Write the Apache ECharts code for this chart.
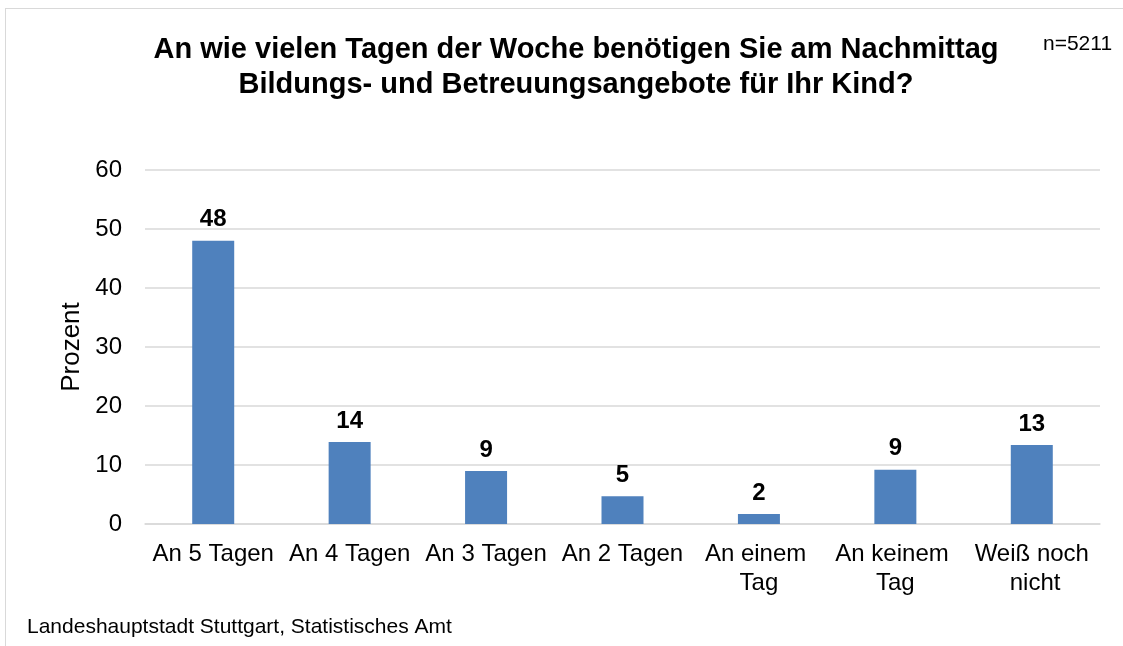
<!DOCTYPE html>
<html>
<head>
<meta charset="utf-8">
<script src="https://cdn.jsdelivr.net/npm/echarts@6/dist/echarts.min.js"></script>
<style>
  html, body { margin: 0; padding: 0; background: #fff; }
  #frame { position: absolute; left: 5px; top: 8px; width: 1130px; height: 650px; border: 1px solid #d9d9d9; box-sizing: border-box; }
  #main { position: absolute; left: 0; top: 0; width: 1123px; height: 646px; }
</style>
</head>
<body>
<div id="frame"></div>
<div id="main"></div>
<script>
// Kategorien und Werte (Prozent)
var categories = ['An 5 Tagen', 'An 4 Tagen', 'An 3 Tagen', 'An 2 Tagen', 'An einem Tag', 'An keinem Tag', 'Weiß noch nicht'];
var values = [48, 13.9, 9.0, 4.7, 1.7, 9.2, 13.4];
var yTicks = [0, 10, 20, 30, 40, 50, 60];

var font = 'Liberation Sans, Arial, sans-serif';
var myChart = echarts.init(document.getElementById('main'));

myChart.setOption({
    animation: false,
    textStyle: { fontFamily: font },
    title: [{
        text: 'An wie vielen Tagen der Woche benötigen Sie am Nachmittag\nBildungs- und Betreuungsangebote für Ihr Kind?',
        left: 571,
        top: 27,
        textAlign: 'center',
        textStyle: { fontFamily: font, fontSize: 29, fontWeight: 'bold', color: '#000', lineHeight: 35 }
    }, {
        text: 'n=5211',
        left: 1038,
        top: 27,
        textStyle: { fontFamily: font, fontSize: 21, fontWeight: 'normal', color: '#000', lineHeight: 24 }
    }, {
        text: 'Landeshauptstadt Stuttgart, Statistisches Amt',
        left: 22,
        top: 610,
        textStyle: { fontFamily: font, fontSize: 21, fontWeight: 'normal', color: '#000', lineHeight: 24 }
    }],
    grid: { left: 145, right: 23, top: 170, bottom: 122 },
    xAxis: {
        type: 'category',
        data: categories,
        axisLine: { lineStyle: { color: '#d9d9d9', width: 1.5 } },
        axisTick: { show: false },
        axisLabel: {
            color: '#000', fontSize: 24, fontFamily: font, margin: 16,
            width: 130, overflow: 'break', lineHeight: 29, interval: 0
        }
    },
    yAxis: {
        type: 'value',
        min: yTicks[0],
        max: yTicks[yTicks.length - 1],
        interval: 10,
        name: 'Prozent',
        nameLocation: 'middle',
        nameGap: 59,
        nameTextStyle: { color: '#000', fontSize: 26, fontFamily: font },
        axisLine: { show: false },
        axisTick: { show: false },
        axisLabel: { color: '#000', fontSize: 24, fontFamily: font, margin: 23 },
        splitLine: { lineStyle: { color: '#d9d9d9', width: 1.5 } }
    },
    series: [{
        type: 'bar',
        data: values,
        barWidth: 42,
        itemStyle: { color: '#4f81bd' },
        label: {
            show: true,
            position: 'top',
            distance: 9,
            color: '#000',
            fontSize: 24,
            fontWeight: 'bold',
            fontFamily: font,
            formatter: function (p) { return Math.round(p.value); }
        }
    }]
});
</script>
</body>
</html>
